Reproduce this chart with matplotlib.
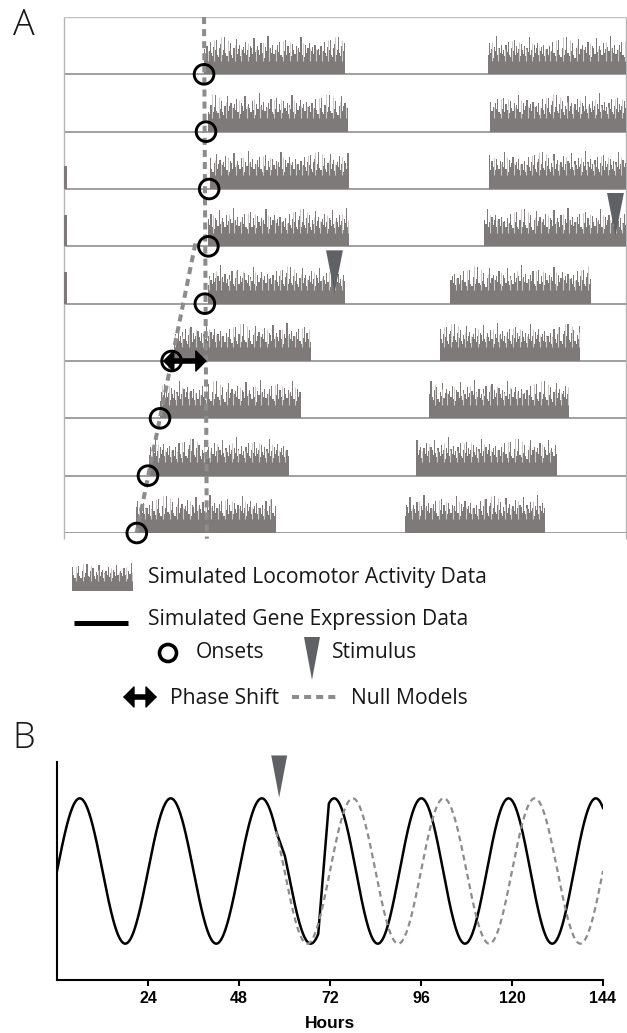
import numpy as np
import matplotlib
matplotlib.use("Agg")
import matplotlib.pyplot as plt
from matplotlib.patches import Polygon

# ---------------------------------------------------------------- data
# Double-plotted actogram: row i shows day i (0-24 h) and day i+1 (24-48 h)
ROWS = np.arange(1, 10)
FIRST_BLOCKS = [(11.96, 24.0), (12.3, 24.25), (12.47, 24.3), (12.3, 24.3), (12.3, 24.0),
                (9.4, 21.1), (8.2, 20.2), (7.26, 19.2), (6.15, 18.1)]
SECOND_BLOCKS = [(36.2, 48.0), (36.4, 48.0), (36.3, 48.0), (35.9, 48.0), (33.0, 45.0),
                 (32.1, 44.1), (31.2, 43.1), (30.1, 42.1), (29.1, 41.1)]
# short bursts right after midnight (row, height)
EDGE_BURSTS = [(3, 0.40), (4, 0.55), (5, 0.55)]
EDGE_BURST_LEN = 0.25

# Relative bin heights of the simulated activity (fraction of a row)
ACT_LEVELS = np.array([
    0.41, 0.31, 0.46, 0.27, 0.38, 0.52, 0.35, 0.29, 0.44, 0.39,
    0.55, 0.32, 0.28, 0.43, 0.49, 0.31, 0.40, 0.60, 0.34, 0.30,
    0.45, 0.37, 0.50, 0.32, 0.27, 0.42, 0.36, 0.57, 0.33, 0.41,
    0.47, 0.29, 0.39, 0.44, 0.35, 0.53, 0.31, 0.40, 0.28, 0.46,
    0.42, 0.33, 0.58, 0.36, 0.30, 0.45, 0.39, 0.32, 0.50, 0.35,
    0.41, 0.27, 0.44, 0.37, 0.62, 0.31, 0.43, 0.35, 0.48, 0.33,
    0.40, 0.29, 0.47, 0.36, 0.52, 0.32, 0.28, 0.42, 0.37, 0.55,
    0.31, 0.45, 0.35, 0.41, 0.30, 0.49, 0.39, 0.33, 0.46, 0.29,
    0.43, 0.36, 0.60, 0.32, 0.40, 0.28, 0.47, 0.35, 0.42, 0.51,
    0.31, 0.38, 0.44, 0.33, 0.48, 0.30, 0.40])
LIGHT_BINS = {3, 8, 14, 20, 26, 31, 37, 44, 50, 55, 61, 67, 73, 79, 84, 90, 95}

# Activity onsets (hours) for each row
ONSETS = np.array([11.96, 12.13, 12.40, 12.33, 12.03, 9.19, 8.20, 7.17, 6.22])
# Free-running null model (hours at top and bottom of the actogram)
NULL_FREE_HOURS = [11.96, 12.2]
NULL_FREE_ROWS = [0.0, 9.1]
# Stimulus times in the actogram (hour on the 48 h axis, row)
STIM_HOURS_A = [47.1, 23.1]
STIM_ROWS_A = [4, 5]

# Gene expression rhythm (hours)
BASE_PERIOD, BASE_PEAK = 24.0, 6.0
DELAY = 0.9
NEW_PERIOD, NEW_PEAK = 23.0, 73.1
TRANSITION = [57.8, 60.1, 68.9, 71.7]
STIM_HOUR_B = 58.6
HOUR_TICKS = [24, 48, 72, 96, 120, 144]

# ---------------------------------------------------------------- style
W, H = 627, 1033
ACT_GRAY = "#7e7a7a"
LIGHT_GRAY = "#cdcdcd"
DASH_GRAY = "#8c8c8c"
STIM_GRAY = "#5f6165"
TEXT = "#1a1718"
LEG_FONT = dict(family="Open Sans", fontsize=15.2, color=TEXT, va="center", ha="left")
HEADS = dict(arrowstyle="<|-|>,head_length=0.6,head_width=0.6",
             lw=1.0, color="k", shrinkA=0, shrinkB=0, mutation_scale=12)

fig = plt.figure(figsize=(W / 100, H / 100), dpi=100)


def fbox(left, top, right, bottom):
    return [left / W, 1 - bottom / H, (right - left) / W, (bottom - top) / H]


def double_arrow(ax, x0, x1, y, inset, zorder=6):
    """Thick two-headed arrow: filled heads plus a heavy shaft between them."""
    ax.annotate("", xy=(x1, y), xytext=(x0, y), arrowprops=HEADS, zorder=zorder)
    ax.plot([x0 + inset, x1 - inset], [y, y], color="k", lw=4.0,
            solid_capstyle="butt", zorder=zorder, clip_on=False)


def draw_activity(ax, x0, x1, base, offset, scale=1.0, width=0.1):
    n = max(1, int(round((x1 - x0) / width)))
    edges = np.linspace(x0, x1, n + 1)
    idx = (np.arange(n) + offset) % len(ACT_LEVELS)
    h = ACT_LEVELS[idx] * scale * 1.08
    ax.fill_between(edges, base, base - np.append(h, h[-1]), step="post",
                    color=ACT_GRAY, lw=0, zorder=2)
    step = edges[1] - edges[0]
    for k in range(n):
        if idx[k] in LIGHT_BINS:
            xc = edges[k] + step / 2
            ax.vlines(xc, base - 0.24 * scale, base - h[k] - 0.12 * scale,
                      color=LIGHT_GRAY, lw=0.8, zorder=2.1)


# ---------------------------------------------------------------- panel A
axA = fig.add_axes(fbox(64, 17, 626, 533))
axA.set_xlim(0, 48)
axA.set_ylim(9, 0)
axA.axis("off")

axA.hlines(0, 0, 48, color="#c0c0c0", lw=1.0, zorder=1)
axA.hlines(ROWS, 0, 48, color="#8f8f8f", lw=1.2, zorder=1)
axA.vlines([0, 48], 0, 9.1, color="#b5b5b5", lw=1.0, clip_on=False, zorder=1)

for i, row in enumerate(ROWS):
    draw_activity(axA, *FIRST_BLOCKS[i], row, offset=11 * i)
    draw_activity(axA, *SECOND_BLOCKS[i], row, offset=11 * i + 47)
for row, hgt in EDGE_BURSTS:
    axA.fill_between([0, EDGE_BURST_LEN], row, row - hgt, color=ACT_GRAY, lw=0, zorder=2)

# null models
axA.plot(NULL_FREE_HOURS, NULL_FREE_ROWS, color=DASH_GRAY, lw=2.9,
         dashes=(1.75, 1.25), clip_on=False, zorder=3)
fit = np.polyfit(ROWS[5:], ONSETS[5:], 1)
shift_rows = np.array([3.95, 9.0])
axA.plot(np.polyval(fit, shift_rows), shift_rows, color=DASH_GRAY, lw=2.9,
         dashes=(1.75, 1.25), clip_on=False, zorder=3)

# onsets
axA.scatter(ONSETS, ROWS, s=200, facecolors="none", edgecolors="k",
            linewidths=2.1, zorder=5, clip_on=False)

# stimuli
for hr, row in zip(STIM_HOURS_A, STIM_ROWS_A):
    tri = Polygon([(hr - 0.72, row - 0.93), (hr + 0.72, row - 0.93), (hr, row - 0.18)],
                  closed=True, color=STIM_GRAY, lw=0, zorder=4, clip_on=False)
    axA.add_patch(tri)

# phase shift arrow
double_arrow(axA, ONSETS[5] - 0.75, NULL_FREE_HOURS[1], ROWS[5], inset=0.5)

# ---------------------------------------------------------------- legend / labels
axL = fig.add_axes([0, 0, 1, 1])
axL.set_xlim(0, W)
axL.set_ylim(H, 0)
axL.axis("off")

axL.text(13, 35, "A", family="Open Sans", fontweight="light", fontsize=26, color=TEXT, va="baseline")
axL.text(12, 748, "B", family="Open Sans", fontweight="light", fontsize=26, color=TEXT, va="baseline")

draw_activity(axL, 72, 133, 591, offset=5, scale=42, width=1.2)
axL.text(148, 578, "Simulated Locomotor Activity Data", **LEG_FONT)

axL.plot([74, 128], [623, 623], color="k", lw=3.6, solid_capstyle="butt")
axL.text(148, 620, "Simulated Gene Expression Data", **LEG_FONT)

axL.scatter([168], [653], s=150, facecolors="none", edgecolors="k", linewidths=2.6)
axL.text(196, 653, "Onsets", **LEG_FONT)
axL.add_patch(Polygon([(304, 637), (320, 637), (312, 680)], closed=True, color=STIM_GRAY, lw=0))
axL.text(332, 653, "Stimulus", **LEG_FONT)

double_arrow(axL, 123, 157, 697, inset=6)
axL.text(170, 698, "Phase Shift", **LEG_FONT)
axL.plot([292, 336], [697, 697], color=DASH_GRAY, lw=2.9, dashes=(1.75, 1.25))
axL.text(351, 698, "Null Models", **LEG_FONT)

# ---------------------------------------------------------------- panel B
axB = fig.add_axes(fbox(57, 762, 603, 980))
axB.set_xlim(0, 144)
axB.set_ylim(-1.5, 1.5)

t = np.linspace(0, 144, 2881)
pre = np.cos(2 * np.pi * (t - BASE_PEAK) / BASE_PERIOD)
delayed = np.cos(2 * np.pi * (t - BASE_PEAK - DELAY) / BASE_PERIOD)
new = np.cos(2 * np.pi * (t - NEW_PEAK) / NEW_PERIOD)


def at(curve, x):
    return np.interp(x, t, curve)


a, b, c, d = TRANSITION
expr = np.where(t <= a, pre, 0.0)
m1 = (t > a) & (t <= b)
expr[m1] = np.interp(t[m1], [a, b], [at(pre, a), at(delayed, b)])
m2 = (t > b) & (t <= c)
expr[m2] = delayed[m2]
m3 = (t > c) & (t <= d)
expr[m3] = np.interp(t[m3], [c, d], [at(delayed, c), at(new, d)])
m4 = t > d
expr[m4] = new[m4]

axB.plot(t, expr, color="k", lw=1.8, zorder=3)
null_mask = t >= a
axB.plot(t[null_mask], pre[null_mask], color=DASH_GRAY, lw=1.6, dashes=(2.6, 1.8), zorder=4)

axB.add_patch(Polygon([(STIM_HOUR_B - 2.1, 1.59), (STIM_HOUR_B + 2.1, 1.59), (STIM_HOUR_B, 1.01)],
                      closed=True, color=STIM_GRAY, lw=0, clip_on=False, zorder=5))

for side in ("top", "right"):
    axB.spines[side].set_visible(False)
for side in ("left", "bottom"):
    axB.spines[side].set_linewidth(1.5)
axB.set_yticks([])
axB.set_xticks(HOUR_TICKS)
axB.set_xticklabels([str(v) for v in HOUR_TICKS], family="Liberation Sans",
                    fontweight="bold", fontsize=11.5)
axB.tick_params(axis="x", direction="out", length=4, width=1.5, pad=4)
axB.set_xlabel("Hours", family="Liberation Sans", fontweight="bold", fontsize=12.5, labelpad=7)

fig.savefig("out.png", dpi=100)
